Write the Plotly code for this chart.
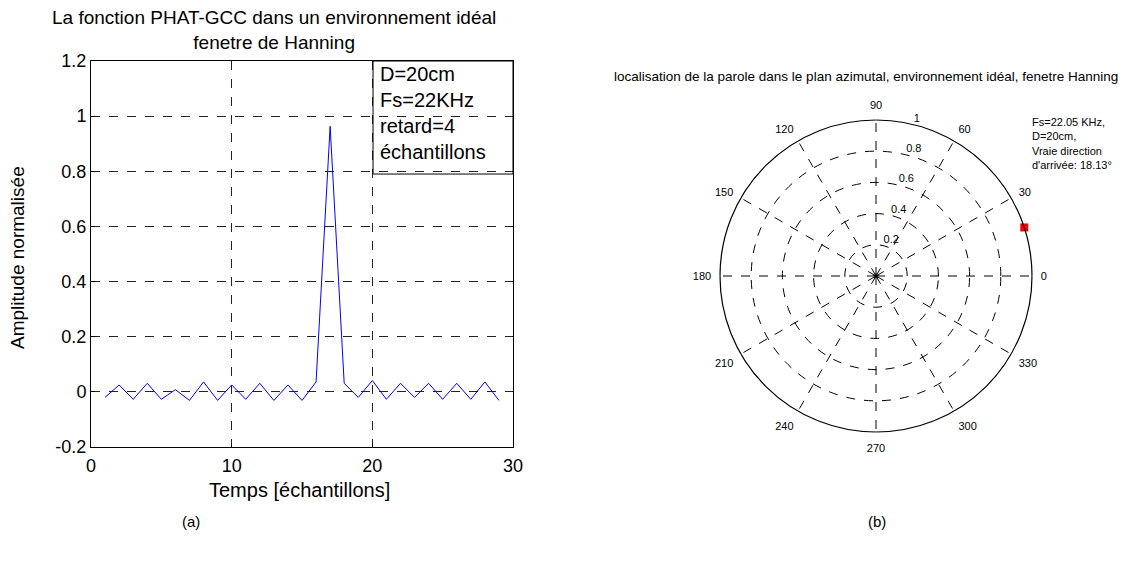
import plotly.graph_objects as go

# ---- data: left panel (PHAT-GCC) ----
samples = list(range(1, 30))
amplitude = [-0.020, 0.025, -0.027, 0.031, -0.027, 0.008, -0.031, 0.036, -0.031, 0.025,
             -0.027, 0.031, -0.031, 0.025, -0.031, 0.036, 0.963, 0.031, -0.020, 0.041,
             -0.027, 0.031, -0.020, 0.031, -0.027, 0.031, -0.027, 0.036, -0.031]
x_ticks = [0, 10, 20, 30]
y_ticks = [-0.2, 0, 0.2, 0.4, 0.6, 0.8, 1.0, 1.2]
y_ticklabels = ["-0.2", "0", "0.2", "0.4", "0.6", "0.8", "1", "1.2"]
legend_lines = ["D=20cm", "Fs=22KHz", "retard=4", "échantillons"]

# ---- data: right panel (polar localisation) ----
doa_r = [1.0]
doa_theta = [18.13]
angle_ticks = list(range(0, 360, 30))
angle_labels = [str(a) for a in angle_ticks]
radial_ticks = [0.2, 0.4, 0.6, 0.8, 1.0]
radial_labels = ["0.2", "0.4", "0.6", "0.8", "1"]
radial_label_angle = 76
info_lines = ["Fs=22.05 KHz,", "D=20cm,", "Vraie direction", "d'arrivée: 18.13°"]

W, H = 1127, 562
FONT = "Liberation Sans, Arial, sans-serif"

fig = go.Figure()

fig.add_trace(go.Scatter(x=samples, y=amplitude, mode="lines",
                         line=dict(color="#0000ff", width=1), showlegend=False,
                         xaxis="x", yaxis="y"))

fig.add_trace(go.Scatterpolar(r=[0], theta=[0], mode="markers",
                              marker=dict(symbol="star", size=5, color="black"),
                              showlegend=False, subplot="polar"))
fig.add_trace(go.Scatterpolar(r=doa_r, theta=doa_theta, mode="markers",
                              marker=dict(symbol="square", size=8, color="red"),
                              showlegend=False, subplot="polar"))
fig.add_trace(go.Scatterpolar(r=radial_ticks, theta=[radial_label_angle] * len(radial_ticks),
                              mode="text", text=radial_labels, textposition="top right",
                              textfont=dict(size=11, color="black"), cliponaxis=False,
                              showlegend=False, subplot="polar", hoverinfo="skip"))

x0, x1 = 91 / W, 513 / W
ytop, ybot = 1 - 61 / H, 1 - 447 / H

fig.update_layout(
    width=W, height=H,
    margin=dict(l=0, r=0, t=0, b=0),
    paper_bgcolor="white", plot_bgcolor="white",
    font=dict(family=FONT, color="black"),
    xaxis=dict(domain=[x0, x1], range=[0, 30], tickvals=x_ticks, automargin=False,
               showgrid=True, gridcolor="#222222", griddash="dash", gridwidth=1,
               showline=True, linecolor="black", linewidth=1, mirror=True,
               ticks="inside", ticklen=4, tickcolor="black", ticklabelstandoff=2,
               zeroline=False, tickfont=dict(size=18, color="black")),
    yaxis=dict(domain=[ybot, ytop], range=[-0.2, 1.2], tickvals=y_ticks, automargin=False,
               ticktext=y_ticklabels,
               showgrid=True, gridcolor="#222222", griddash="dash", gridwidth=1,
               showline=True, linecolor="black", linewidth=1, mirror=True,
               ticks="inside", ticklen=4, tickcolor="black",
               zeroline=False, tickfont=dict(size=18, color="black")),
    polar=dict(
        domain=dict(x=[720 / W, 1032 / W], y=[1 - 432 / H, 1 - 120 / H]),
        bgcolor="white",
        angularaxis=dict(direction="counterclockwise", rotation=0, color="black",
                         tickmode="array", tickvals=angle_ticks, ticktext=angle_labels,
                         showline=True, linecolor="black", linewidth=1.2,
                         showgrid=True, gridcolor="black", griddash="dash", gridwidth=1,
                         ticks="outside", ticklen=6, tickcolor="white",
                         tickfont=dict(size=11, color="black")),
        radialaxis=dict(range=[0, 1], tickmode="array", tickvals=radial_ticks, color="black",
                        showticklabels=False, angle=radial_label_angle,
                        showline=False, ticks="",
                        showgrid=True, gridcolor="black", griddash="dash", gridwidth=1),
    ),
)

# left title
fig.add_annotation(x=(36 + 512) / 2 / W, y=1 - 30 / H, xref="paper", yref="paper",
                   text="La fonction PHAT-GCC dans un environnement idéal<br>fenetre de Hanning",
                   showarrow=False, font=dict(size=19, color="black"), align="center",
                   xanchor="center", yanchor="middle")

# axis titles
fig.add_annotation(x=299 / W, y=1 - 490 / H, xref="paper", yref="paper",
                   text="Temps [échantillons]", showarrow=False, font=dict(size=20, color="black"),
                   xanchor="center", yanchor="middle")
fig.add_annotation(x=17 / W, y=1 - 258 / H, xref="paper", yref="paper",
                   text="Amplitude normalisée", showarrow=False, font=dict(size=19, color="black"),
                   textangle=-90, xanchor="center", yanchor="middle")

# legend-like text box on left panel
fig.add_shape(type="rect", xref="x", yref="y", x0=20.05, x1=30, y0=0.79, y1=1.2,
              line=dict(color="black", width=1), fillcolor="rgba(0,0,0,0)")
fig.add_annotation(x=20.4, y=1.2, xref="x", yref="y",
                   text="<br>".join(legend_lines), showarrow=False, align="left",
                   xanchor="left", yanchor="top", font=dict(size=20, color="black"))

# polar title
fig.add_annotation(x=866 / W, y=1 - 76 / H, xref="paper", yref="paper",
                   text="localisation de la parole dans le plan azimutal, environnement idéal, fenetre Hanning",
                   showarrow=False, font=dict(size=13.5, color="black"),
                   xanchor="center", yanchor="middle")

# polar info text
fig.add_annotation(x=1030 / W, y=1 - 114 / H, xref="paper", yref="paper",
                   text="<br>".join(info_lines), showarrow=False, align="left",
                   xanchor="left", yanchor="top", font=dict(size=11, color="black"))

# panel labels
fig.add_annotation(x=191 / W, y=1 - 521 / H, xref="paper", yref="paper", text="(a)",
                   showarrow=False, font=dict(size=15, color="black"),
                   xanchor="center", yanchor="middle")
fig.add_annotation(x=877 / W, y=1 - 521 / H, xref="paper", yref="paper", text="(b)",
                   showarrow=False, font=dict(size=15, color="black"),
                   xanchor="center", yanchor="middle")

fig.write_html("out.html")
